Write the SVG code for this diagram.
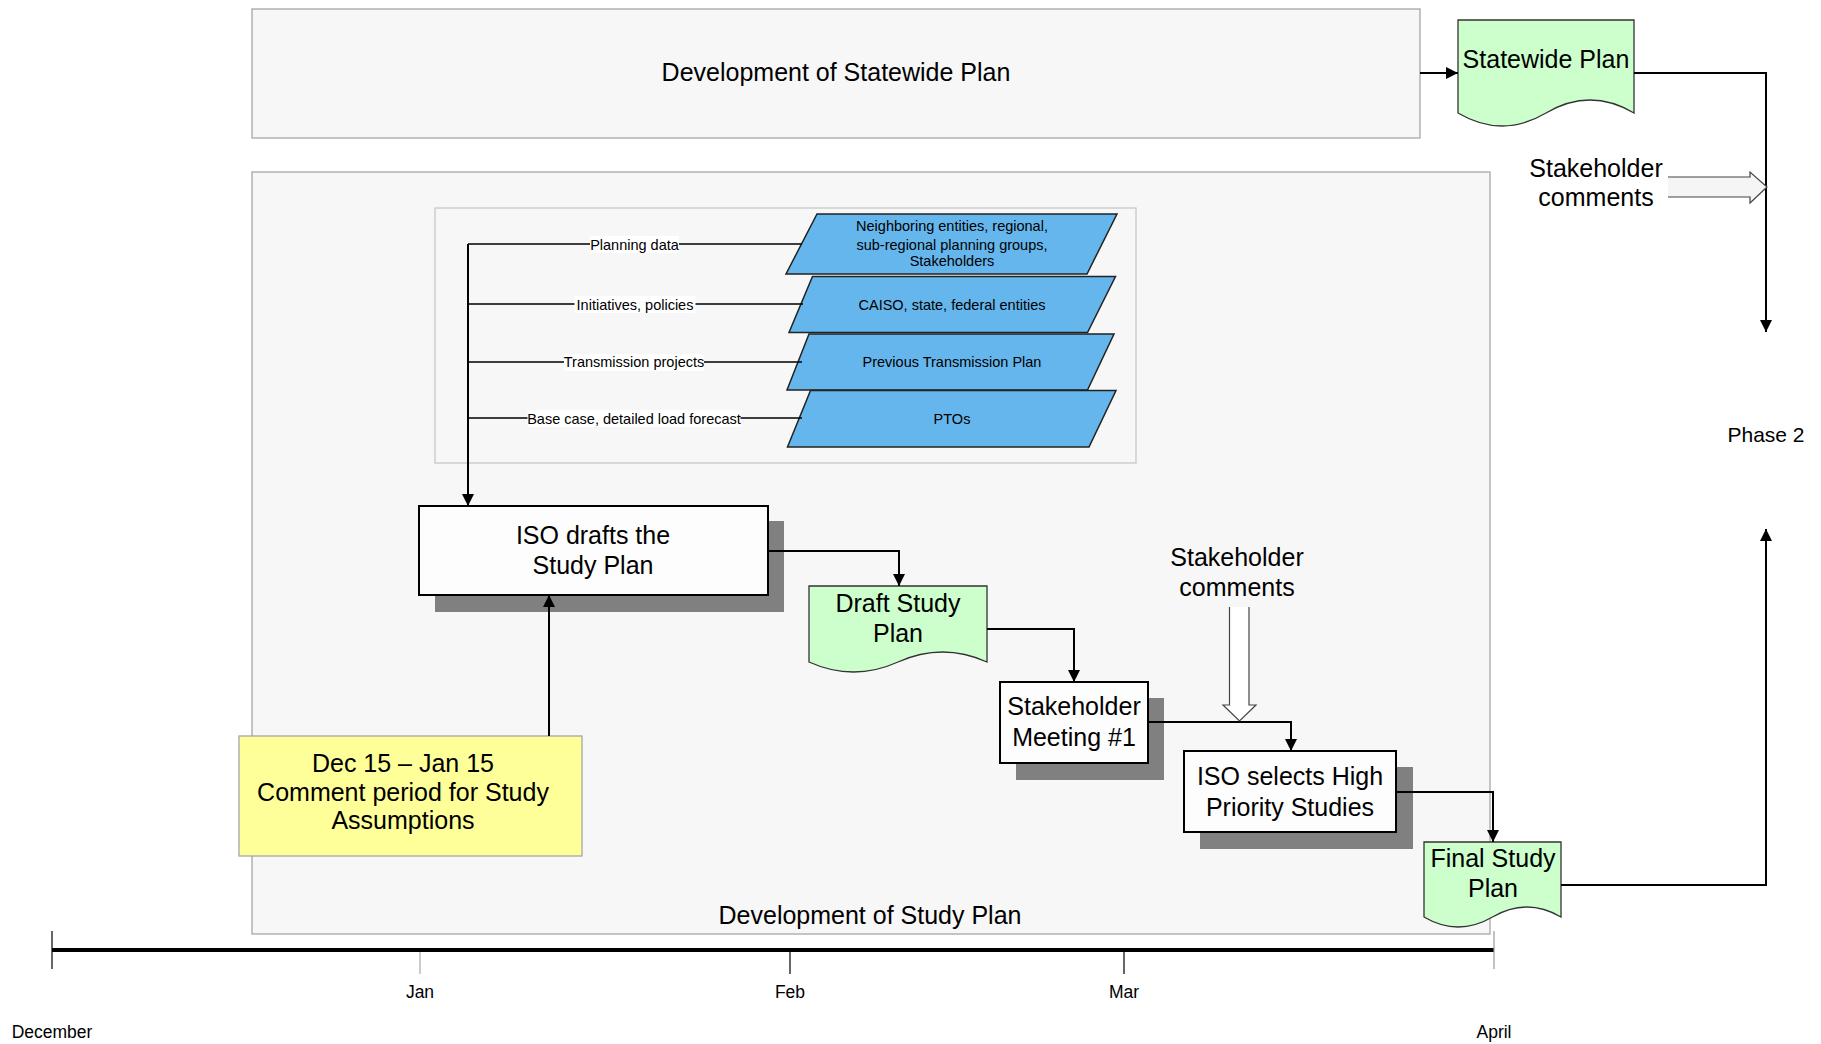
<svg xmlns="http://www.w3.org/2000/svg" width="1821" height="1044" viewBox="0 0 1821 1044">
<style>
text{font-family:"Liberation Sans",Arial,sans-serif;fill:#000;text-anchor:middle}
.t25{font-size:25px}
.t14{font-size:14.5px}
.t17{font-size:17.5px}
.frame{fill:#f7f7f7;stroke:#a6a6a6;stroke-width:1.3}
.inner{fill:#f7f7f7;stroke:#c8c8c8;stroke-width:1.3}
.proc{fill:#fdfdfd;stroke:#000;stroke-width:2}
.shadow{fill:#808080}
.doc{fill:#ccffcc;stroke:#333;stroke-width:1.3}
.para{fill:#65b6ec;stroke:#222;stroke-width:1.5}
.note{fill:#ffff99;stroke:#a6a6a6;stroke-width:1.3}
.con{fill:none;stroke:#000;stroke-width:2}
.thin{fill:none;stroke:#000;stroke-width:1.5}
.hollow{stroke:#444;stroke-width:1.2}
.lbl{fill:#fff}
</style>
<defs>
<marker id="ah" markerWidth="12" markerHeight="12" refX="12" refY="6" orient="auto" markerUnits="userSpaceOnUse">
<path d="M0,0 L12,6 L0,12 z" fill="#000"/>
</marker>
</defs>
<rect width="1821" height="1044" fill="#fff"/>

<g id="statewide-development">
<rect class="frame" x="252" y="9" width="1168" height="129"/>
<text class="t25" x="836" y="81">Development of Statewide Plan</text>
</g>

<g id="study-plan-development">
<rect class="frame" x="252" y="172" width="1238" height="762"/>
<text class="t25" x="870" y="924">Development of Study Plan</text>
</g>

<g id="inputs-frame">
<rect class="inner" x="435" y="208" width="701" height="255"/>
</g>

<g id="statewide-plan">
<path class="doc" d="M1458,20 H1634 V113 Q1590,87 1546,113 T1458,113 Z"/>
<text class="t25" x="1546" y="68">Statewide Plan</text>
</g>

<g id="stakeholder-comments-top">
<text class="t25" x="1596" y="177">Stakeholder</text>
<text class="t25" x="1596" y="206">comments</text>
</g>

<g id="phase2">
<text x="1766" y="442" style="font-size:21px">Phase 2</text>
</g>

<g id="src-neighboring">
<path class="para" d="M817,214 H1117 L1087,274 H786 Z"/>
<text class="t14" x="952" y="231">Neighboring entities, regional,</text>
<text class="t14" x="952" y="249.5">sub-regional planning groups,</text>
<text class="t14" x="952" y="266">Stakeholders</text>
</g>
<g id="src-caiso">
<path class="para" d="M812.5,276.5 H1115.5 L1087.5,332.5 H789 Z"/>
<text class="t14" x="952" y="309.5">CAISO, state, federal entities</text>
</g>
<g id="src-previous">
<path class="para" d="M809,334 H1114 L1087.5,390 H787 Z"/>
<text class="t14" x="952" y="367">Previous Transmission Plan</text>
</g>
<g id="src-ptos">
<path class="para" d="M810.5,390.5 H1116 L1089,447 H787.5 Z"/>
<text class="t14" x="952" y="423.5">PTOs</text>
</g>

<g id="iso-drafts">
<rect class="shadow" x="435" y="521" width="349" height="91"/>
<rect class="proc" x="419" y="506" width="349" height="89"/>
<text class="t25" x="593" y="544">ISO drafts the</text>
<text class="t25" x="593" y="574">Study Plan</text>
</g>

<g id="draft-study-plan">
<path class="doc" d="M809,586 H987 V662 Q942.5,642 898,662 T809,662 Z"/>
<text class="t25" x="898" y="612">Draft Study</text>
<text class="t25" x="898" y="642">Plan</text>
</g>

<g id="stakeholder-meeting">
<rect class="shadow" x="1016" y="698" width="148" height="82"/>
<rect class="proc" x="1000" y="682" width="148" height="81"/>
<text class="t25" x="1074" y="715">Stakeholder</text>
<text class="t25" x="1074" y="746">Meeting #1</text>
</g>

<g id="stakeholder-comments-mid">
<text class="t25" x="1237" y="566">Stakeholder</text>
<text class="t25" x="1237" y="596">comments</text>
</g>

<g id="iso-selects">
<rect class="shadow" x="1200" y="767" width="213" height="82"/>
<rect class="proc" x="1184" y="751" width="212" height="81"/>
<text class="t25" x="1290" y="785">ISO selects High</text>
<text class="t25" x="1290" y="816">Priority Studies</text>
</g>

<g id="final-study-plan">
<path class="doc" d="M1424,842 H1561 V917 Q1527,897 1492.5,917 T1424,917 Z"/>
<text class="t25" x="1493" y="867">Final Study</text>
<text class="t25" x="1493" y="897">Plan</text>
</g>

<g id="comment-period">
<rect class="note" x="239" y="736" width="343" height="120"/>
<text class="t25" x="403" y="772">Dec 15 – Jan 15</text>
<text class="t25" x="403" y="801">Comment period for Study</text>
<text class="t25" x="403" y="829">Assumptions</text>
</g>

<g id="timeline">
<line x1="52" y1="950" x2="1494" y2="950" stroke="#000" stroke-width="4"/>
<line x1="52" y1="931" x2="52" y2="969" stroke="#000" stroke-width="1.2"/>
<line x1="1494" y1="931" x2="1494" y2="969" stroke="#999" stroke-width="1.2"/>
<line x1="420" y1="952" x2="420" y2="974" stroke="#aaa" stroke-width="1.2"/>
<line x1="790" y1="952" x2="790" y2="974" stroke="#000" stroke-width="1.2"/>
<line x1="1124" y1="952" x2="1124" y2="974" stroke="#000" stroke-width="1.2"/>
<text class="t17" x="420" y="998">Jan</text>
<text class="t17" x="790" y="998">Feb</text>
<text class="t17" x="1124" y="998">Mar</text>
<text class="t17" x="52" y="1038">December</text>
<text class="t17" x="1494" y="1038">April</text>
</g>

<g id="connectors">
<path class="con" d="M1420,73 H1458" marker-end="url(#ah)"/>
<path class="con" d="M1634,73 H1766 V332" marker-end="url(#ah)"/>
<path class="con" d="M1561,885 H1766 V529" marker-end="url(#ah)"/>
<path class="con" d="M468,244 V506" marker-end="url(#ah)"/>
<path class="thin" d="M468,244 H802 M468,304 H803 M468,362 H802 M468,418 H802"/>
<path class="con" d="M768,551 H899 V586" marker-end="url(#ah)"/>
<path class="con" d="M987,629 H1074 V682" marker-end="url(#ah)"/>
<path class="con" d="M1148,722 H1291 V751" marker-end="url(#ah)"/>
<path class="con" d="M1396,792 H1493 V842" marker-end="url(#ah)"/>
<path class="con" d="M549,736 V595" marker-end="url(#ah)"/>
<path class="hollow" fill="#f5f5f5" d="M1668,177 H1750 V172 L1767,187 L1750,203 V197 H1668"/>
<path class="hollow" fill="#fff" d="M1229.5,607 V705 H1223 L1239.5,721 L1256,705 H1249 V607"/>
<rect class="lbl" x="590" y="236" width="89" height="17"/>
<text class="t14" x="634.5" y="249.5">Planning data</text>
<rect class="lbl" x="574.5" y="296" width="121" height="17"/>
<text class="t14" x="635" y="309.5">Initiatives, policies</text>
<rect class="lbl" x="564" y="354" width="140" height="17"/>
<text class="t14" x="634" y="367">Transmission projects</text>
<rect class="lbl" x="527.5" y="410" width="213" height="17"/>
<text class="t14" x="634" y="423.5">Base case, detailed load forecast</text>
</g>
</svg>
